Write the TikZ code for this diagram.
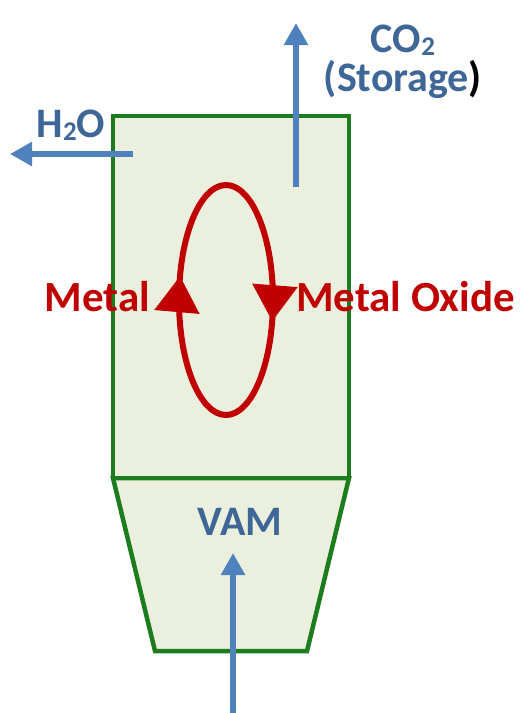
\documentclass[tikz,border=0pt]{standalone}
\usepackage{fontspec}
\setmainfont{Carlito}
\usetikzlibrary{arrows.meta,decorations.markings,positioning}

\definecolor{vesselgreen}{RGB}{28,124,30}
\definecolor{vesselfill}{RGB}{235,240,222}
\definecolor{flowblue}{RGB}{79,129,189}
\definecolor{labelblue}{RGB}{62,102,150}
\definecolor{cyclered}{RGB}{192,0,0}

\newcommand{\chemsub}[1]{\raisebox{-0.15ex}{\fontsize{27}{27}\selectfont #1}}

\begin{document}
\begin{tikzpicture}[x=1pt, y=-1pt, >=stealth]
        \tikzstyle{vessel} = [draw=vesselgreen, fill=vesselfill, line width=4.5pt, line join=miter]
        \tikzstyle{flow} = [draw=flowblue, line width=6pt, -{Triangle[length=22pt,width=23pt]}]
        \tikzstyle{bluelabel} = [text=labelblue, inner sep=0pt, font=\bfseries\fontsize{42}{46}\selectfont]
        \tikzstyle{redlabel} = [text=cyclered, inner sep=0pt, font=\bfseries\fontsize{43}{47}\selectfont]
        \tikzstyle{cycle} = [draw=cyclered, line width=6pt,
            postaction={decorate, decoration={markings,
                mark=at position 0.04 with {\arrow[cyclered]{Triangle[length=36pt,width=44pt]}},
                mark=at position 0.545 with {\arrow[cyclered]{Triangle[length=36pt,width=44pt]}}}}]

        \useasboundingbox (0,0) rectangle (520,713);

        % Reactor body
        \path [vessel] (113,478) -- (349,478) -- (307,651) -- (155,651) -- cycle;
        \path [vessel] (113,116) rectangle (349,478);

        % Metal / metal oxide loop
        \draw [cycle] (273,300) arc[start angle=0, end angle=360, x radius=47, y radius=115];

        % Flow ends
        \coordinate (h2oin) at (133,154);
        \coordinate (h2oout) at (10,154);
        \coordinate (co2in) at (296,187);
        \coordinate (co2out) at (296,23);
        \coordinate (vamin) at (233,713);
        \coordinate (vamout) at (233,553);

        % Labels
        \node [bluelabel, anchor=base] (h2o) at (71,137) {H\chemsub{2}O};
        \node [bluelabel, anchor=base] (co2) at (403,52) {CO\chemsub{2}};
        \node [bluelabel, anchor=base] (storage) at (403,91) {(Storage\textcolor{black}{)}};
        \node [bluelabel, anchor=base] (vam) at (240,535) {VAM};
        \node [redlabel, anchor=base east] (metal) at (150,311) {Metal};
        \node [redlabel, anchor=base west] (oxide) at (296,311) {Metal Oxide};

        % Flows
        \path [flow] (h2oin) -- (h2oout);
        \path [flow] (co2in) -- (co2out);
        \path [flow] (vamin) -- (vamout);
    \end{tikzpicture}
\end{document}
